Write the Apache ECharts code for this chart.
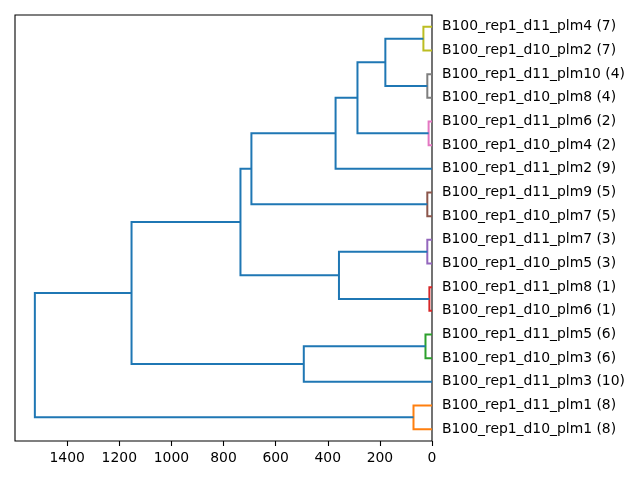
<!DOCTYPE html>
<html>
<head>
<meta charset="utf-8">
<script src="https://cdn.jsdelivr.net/npm/echarts@6/dist/echarts.min.js"></script>
<style>html,body{margin:0;padding:0;background:#fff}#c{width:640px;height:480px}</style>
</head>
<body>
<div id="c"></div>
<script>
// Leaf labels, bottom to top
const leafLabels = [
  'B100_rep1_d10_plm1 (8)', 'B100_rep1_d11_plm1 (8)', 'B100_rep1_d11_plm3 (10)',
  'B100_rep1_d10_plm3 (6)', 'B100_rep1_d11_plm5 (6)', 'B100_rep1_d10_plm6 (1)',
  'B100_rep1_d11_plm8 (1)', 'B100_rep1_d10_plm5 (3)', 'B100_rep1_d11_plm7 (3)',
  'B100_rep1_d10_plm7 (5)', 'B100_rep1_d11_plm9 (5)', 'B100_rep1_d11_plm2 (9)',
  'B100_rep1_d10_plm4 (2)', 'B100_rep1_d11_plm6 (2)', 'B100_rep1_d10_plm8 (4)',
  'B100_rep1_d11_plm10 (4)', 'B100_rep1_d10_plm2 (7)', 'B100_rep1_d11_plm4 (7)'
];
// Merges: node ids 0..17 are leaves, merge k creates node 18+k
const mergeLeft   = [0, 3, 5, 7, 9, 12, 14, 16, 25, 26, 27, 28, 21, 29, 19, 31, 33];
const mergeRight  = [1, 4, 6, 8, 10, 13, 15, 17, 24, 23, 11, 22, 20, 30, 2, 32, 18];
const mergeHeight = [71, 25, 10, 18, 18, 13, 18, 33, 179, 286, 370, 693, 357, 735, 492, 1153, 1524];
const mergeColor  = ['#ff7f0e', '#2ca02c', '#d62728', '#9467bd', '#8c564b', '#e377c2', '#7f7f7f', '#bcbd22',
  '#1f77b4', '#1f77b4', '#1f77b4', '#1f77b4', '#1f77b4', '#1f77b4', '#1f77b4', '#1f77b4', '#1f77b4'];
const xTicks = [0, 200, 400, 600, 800, 1000, 1200, 1400];

const nLeaves = leafLabels.length;
const nodeY = [], nodeH = [];
for (let i = 0; i < nLeaves; i++) { nodeY.push(5 + 10 * i); nodeH.push(0); }
const links = [];
for (let k = 0; k < mergeHeight.length; k++) {
  const a = mergeLeft[k], b = mergeRight[k], h = mergeHeight[k];
  links.push({
    coords: [[nodeH[a], nodeY[a]], [h, nodeY[a]], [h, nodeY[b]], [nodeH[b], nodeY[b]]],
    lineStyle: { color: mergeColor[k] }
  });
  nodeY.push((nodeY[a] + nodeY[b]) / 2);
  nodeH.push(h);
}
const xMax = Math.max(...mergeHeight) * 1.05;
const leafPos = leafLabels.map((_, i) => 5 + 10 * i);

const chart = echarts.init(document.getElementById('c'), null, { renderer: 'canvas' });
chart.setOption({
  animation: false,
  backgroundColor: '#fff',
  textStyle: { fontFamily: 'DejaVu Sans' },
  grid: { left: 15, right: 208, top: 15, bottom: 39, show: true, borderColor: '#000', borderWidth: 1.1, backgroundColor: 'transparent' },
  xAxis: {
    type: 'value', inverse: true, min: 0, max: xMax,
    splitLine: { show: false },
    axisLine: { show: false },
    axisTick: { show: true, length: 5, lineStyle: { color: '#000', width: 1.1 }, customValues: xTicks },
    axisLabel: { show: true, margin: 10, color: '#000', fontSize: 13.9, fontFamily: 'DejaVu Sans', customValues: xTicks,
      formatter: v => String(v) }
  },
  yAxis: {
    type: 'value', position: 'right', min: 0, max: nLeaves * 10,
    splitLine: { show: false },
    axisLine: { show: false },
    axisTick: { show: false },
    axisLabel: { show: true, margin: 10, color: '#000', fontSize: 13.9, fontFamily: 'DejaVu Sans', customValues: leafPos,
      padding: [4, 0, 0, 0],
      formatter: v => leafLabels[Math.round((v - 5) / 10)] }
  },
  series: [{
    type: 'lines', coordinateSystem: 'cartesian2d', polyline: true,
    lineStyle: { width: 2, opacity: 1 },
    data: links, silent: true
  }]
});
</script>
</body>
</html>
